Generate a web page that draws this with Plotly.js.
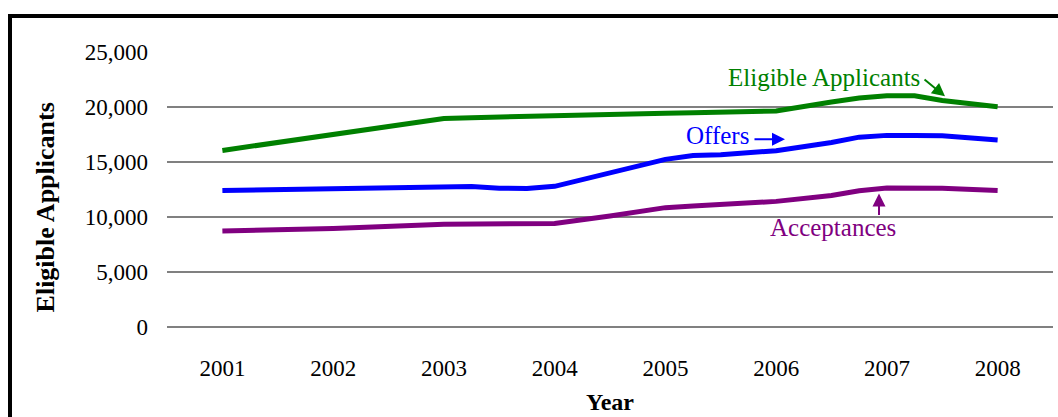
<!DOCTYPE html>
<html>
<head>
<meta charset="utf-8">
<script src="https://cdn.plot.ly/plotly-3.0.1.min.js"></script>
<style>
  html, body { margin: 0; padding: 0; background: #fff; overflow: hidden; }
  #wrap { position: relative; width: 1058px; height: 417px; }
  #chart { position: absolute; left: 0; top: 0; width: 1058px; height: 417px; }
  #frame { position: absolute; left: 8px; top: 14px; width: 1100px; height: 500px;
           border: 4px solid #000; box-sizing: border-box; pointer-events: none; }
</style>
</head>
<body>
<div id="wrap">
  <div id="chart"></div>
  <div id="frame"></div>
</div>
<script>
// Time points (fractional years)
const years = [2001, 2002, 2003, 2003.25, 2003.5, 2003.75, 2004, 2004.5, 2005, 2005.25, 2005.5, 2006, 2006.5, 2006.75, 2007, 2007.25, 2007.5, 2008];

const eligibleApplicants = [16050, 17500, 18960, 19030, 19100, 19180, 19260, 19350, 19430, 19480, 19520, 19640, 20450, 20820, 21020, 21020, 20600, 20030];
const offers             = [12400, 12600, 12790, 12780, 12620, 12600, 12790, 14050, 15240, 15580, 15650, 16030, 16770, 17260, 17420, 17420, 17380, 17000];
const acceptances        = [8720, 8960, 9330, 9330, 9330, 9340, 9420, 10100, 10850, 11000, 11150, 11420, 11950, 12380, 12630, 12630, 12620, 12400];

const tickYears = [2001, 2002, 2003, 2004, 2005, 2006, 2007, 2008];
const tickYearLabels = ["2001", "2002", "2003", "2004", "2005", "2006", "2007", "2008"];
const yTicks = [0, 5000, 10000, 15000, 20000, 25000];
const yTickLabels = ["0", "5,000", "10,000", "15,000", "20,000", "25,000"];

const serif = "Liberation Serif, Times New Roman, serif";
const GREEN = "#008000", BLUE = "#0000FF", PURPLE = "#800080";

const traces = [
  { x: years, y: eligibleApplicants, name: "Eligible Applicants", mode: "lines",
    line: { color: GREEN, width: 5 } },
  { x: years, y: offers, name: "Offers", mode: "lines",
    line: { color: BLUE, width: 5 } },
  { x: years, y: acceptances, name: "Acceptances", mode: "lines",
    line: { color: PURPLE, width: 5 } }
];

const layout = {
  width: 1058, height: 417,
  margin: { l: 167, r: 5, t: 51.5, b: 89.5 },
  paper_bgcolor: "#fff", plot_bgcolor: "#fff",
  showlegend: false,
  font: { family: serif, color: "#000", size: 23 },
  xaxis: {
    range: [2000.5, 2008.5],
    tickvals: tickYears, ticktext: tickYearLabels,
    showgrid: false, zeroline: false, showline: false, ticks: "",
    ticklabelstandoff: 25,
    tickfont: { family: serif, size: 23, color: "#000" },
    title: { text: "Year", font: { family: serif, size: 24, color: "#000", weight: "bold" }, standoff: 13 }
  },
  yaxis: {
    range: [0, 25000],
    tickvals: yTicks, ticktext: yTickLabels,
    showgrid: true, gridcolor: "#808080", gridwidth: 2,
    zeroline: true, zerolinecolor: "#808080", zerolinewidth: 2,
    showline: false, ticks: "",
    ticklabelstandoff: 18,
    tickfont: { family: serif, size: 23, color: "#000" },
    title: { text: "" }
  },
  annotations: [
    { x: -0.1377, y: 0.4348, xref: "paper", yref: "paper", text: "<b>Eligible Applicants</b>",
      textangle: -90, showarrow: false, xanchor: "center", yanchor: "middle",
      font: { family: serif, size: 26, color: "#000" } },
    { x: 2006.429, y: 22717, xref: "x", yref: "y", text: "Eligible Applicants", showarrow: false,
      font: { family: serif, size: 25, color: GREEN } },
    { x: 2005.475, y: 17437, xref: "x", yref: "y", text: "Offers", showarrow: false,
      font: { family: serif, size: 25, color: BLUE } },
    { x: 2006.518, y: 9013, xref: "x", yref: "y", text: "Acceptances", showarrow: false,
      font: { family: serif, size: 25, color: PURPLE } },
    { x: 2007.525, y: 20969, xref: "x", yref: "y", text: "", showarrow: true,
      ax: -22, ay: -18, arrowhead: 2, arrowsize: 1.3, arrowwidth: 2, arrowcolor: GREEN, standoff: 0 },
    { x: 2006.08, y: 17074, xref: "x", yref: "y", text: "", showarrow: true,
      ax: -32, ay: 0, arrowhead: 2, arrowsize: 1.3, arrowwidth: 2, arrowcolor: BLUE, standoff: 0 },
    { x: 2006.929, y: 12138, xref: "x", yref: "y", text: "", showarrow: true,
      ax: 0, ay: 23, arrowhead: 2, arrowsize: 1.3, arrowwidth: 2, arrowcolor: PURPLE, standoff: 0 }
  ]
};

Plotly.newPlot("chart", traces, layout, { staticPlot: true, displayModeBar: false });
</script>
</body>
</html>
